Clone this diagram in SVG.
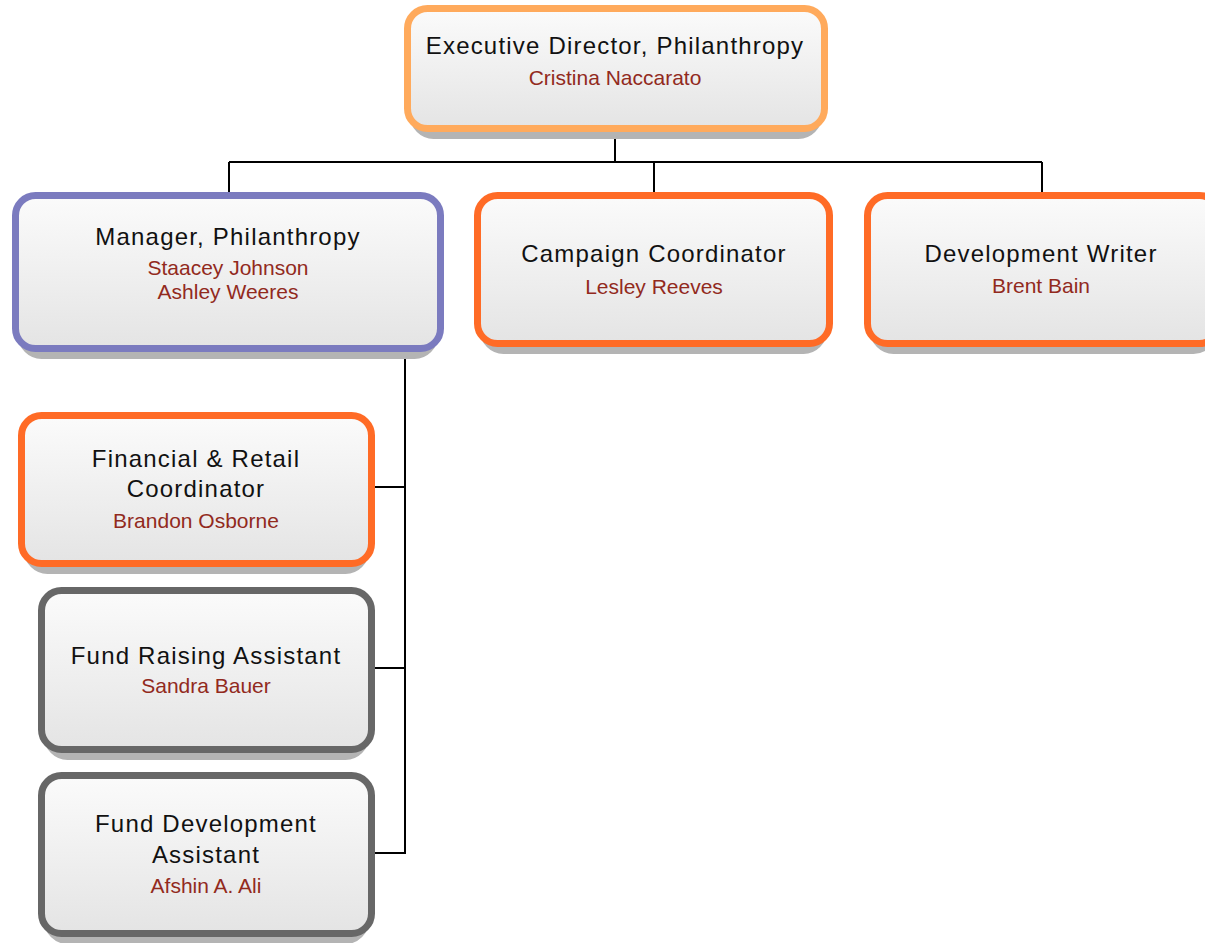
<svg xmlns="http://www.w3.org/2000/svg" width="1205" height="943" viewBox="0 0 1205 943">
<defs>
<linearGradient id="fill" x1="0" y1="0" x2="0" y2="1">
<stop offset="0" stop-color="#fbfbfb"/>
<stop offset="1" stop-color="#e4e4e4"/>
</linearGradient>
<linearGradient id="shade" x1="0" y1="0" x2="0" y2="1">
<stop offset="0.8" stop-color="#a8a8a8"/>
<stop offset="1" stop-color="#c4c4c4"/>
</linearGradient>
</defs>
<style>
.shadow{fill:url(#shade);stroke:#b4b4b4;stroke-width:7}
.box{fill:url(#fill);stroke-width:7}
.peach{stroke:#ffaa5c}
.purple{stroke:#7b7bbf}
.orange{stroke:#ff6b26}
.gray{stroke:#676767}
.t{font-family:"Liberation Sans",Arial,sans-serif;font-size:24px;letter-spacing:1.2px;fill:#111;text-anchor:middle}
.n{font-family:"Liberation Sans",Arial,sans-serif;font-size:21px;fill:#922a1d;text-anchor:middle}
.c{fill:none;stroke:#000;stroke-width:2}
</style>
<rect width="1205" height="943" fill="#fff"/>
<g id="connectors">
<path class="c" d="M615 132V162M229 162H1042M229 162V192M654 162V192M1042 162V192"/>
<path class="c" d="M405 352V854M375 487H405M375 668H405M375 853H405"/>
</g>
<g id="executive-director">
<rect class="shadow" x="413.5" y="15.5" width="405" height="120" rx="20"/>
<rect class="box peach" x="407.5" y="8.5" width="417" height="120" rx="20"/>
<text class="t" x="615" y="54">Executive Director, Philanthropy</text>
<text class="n" x="615" y="85">Cristina Naccarato</text>
</g>
<g id="manager-philanthropy">
<rect class="shadow" x="21.5" y="202.5" width="413" height="153" rx="20"/>
<rect class="box purple" x="15.5" y="195.5" width="425" height="153" rx="20"/>
<text class="t" x="228" y="245">Manager, Philanthropy</text>
<text class="n" x="228" y="275">Staacey Johnson</text>
<text class="n" x="228" y="299">Ashley Weeres</text>
</g>
<g id="campaign-coordinator">
<rect class="shadow" x="483.5" y="202.5" width="340" height="148" rx="20"/>
<rect class="box orange" x="477.5" y="195.5" width="352" height="148" rx="20"/>
<text class="t" x="654" y="262">Campaign Coordinator</text>
<text class="n" x="654" y="294">Lesley Reeves</text>
</g>
<g id="development-writer">
<rect class="shadow" x="873.5" y="202.5" width="340" height="148" rx="20"/>
<rect class="box orange" x="867.5" y="195.5" width="352" height="148" rx="20"/>
<text class="t" x="1041" y="262">Development Writer</text>
<text class="n" x="1041" y="293">Brent Bain</text>
</g>
<g id="financial-retail-coordinator">
<rect class="shadow" x="27.5" y="422.5" width="338" height="148" rx="20"/>
<rect class="box orange" x="21.5" y="415.5" width="350" height="148" rx="20"/>
<text class="t" x="196" y="467">Financial &amp; Retail</text>
<text class="t" x="196" y="497">Coordinator</text>
<text class="n" x="196" y="528">Brandon Osborne</text>
</g>
<g id="fund-raising-assistant">
<rect class="shadow" x="47.5" y="597.5" width="318" height="159" rx="20"/>
<rect class="box gray" x="41.5" y="590.5" width="330" height="159" rx="20"/>
<text class="t" x="206" y="664">Fund Raising Assistant</text>
<text class="n" x="206" y="693">Sandra Bauer</text>
</g>
<g id="fund-development-assistant">
<rect class="shadow" x="47.5" y="782.5" width="318" height="158" rx="20"/>
<rect class="box gray" x="41.5" y="775.5" width="330" height="158" rx="20"/>
<text class="t" x="206" y="832">Fund Development</text>
<text class="t" x="206" y="863">Assistant</text>
<text class="n" x="206" y="893">Afshin A. Ali</text>
</g>
</svg>
